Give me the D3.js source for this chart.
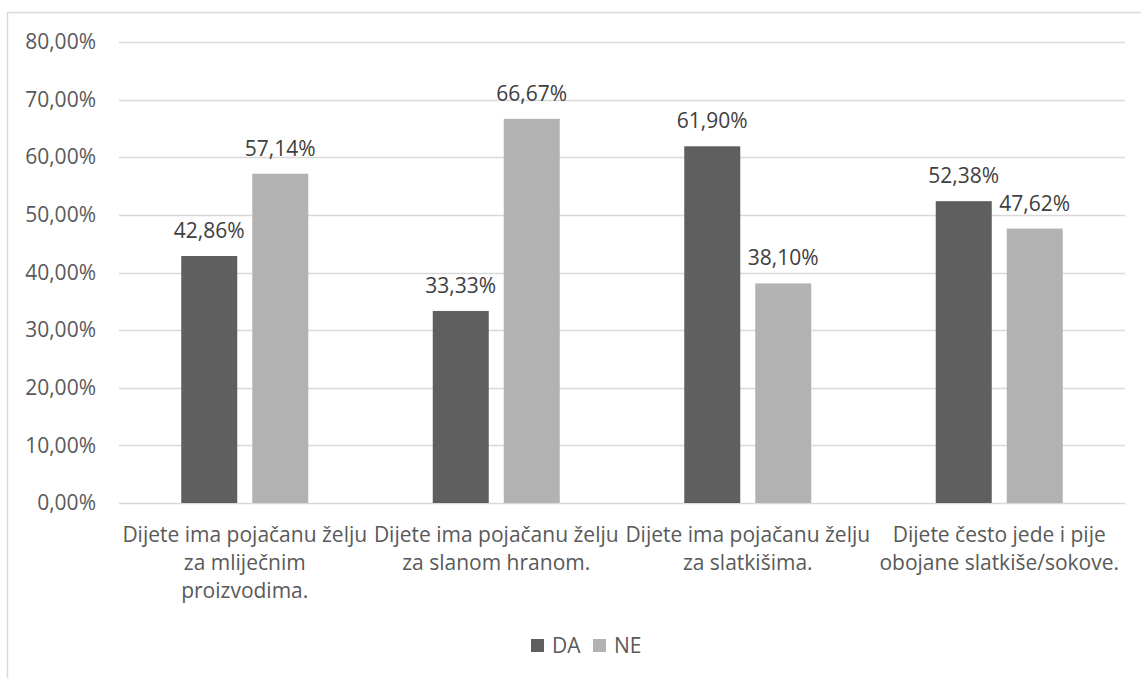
<!DOCTYPE html>
<html>
<head>
<meta charset="utf-8">
<script src="https://cdn.jsdelivr.net/npm/d3@7"></script>
<style>
html,body{margin:0;padding:0;background:#fff;}
svg{display:block;}
text{font-family:"Open Sans",sans-serif;}
</style>
</head>
<body>
<svg id="chart" width="1141" height="678"></svg>
<script>
const categories = [
  "Dijete ima pojačanu želju\nza mliječnim\nproizvodima.",
  "Dijete ima pojačanu želju\nza slanom hranom.",
  "Dijete ima pojačanu želju\nza slatkišima.",
  "Dijete često jede i pije\nobojane slatkiše/sokove."
];
const seriesNames = ["DA", "NE"];
const daValues = [42.86, 33.33, 61.90, 52.38];
const neValues = [57.14, 66.67, 38.10, 47.62];
const yTicks = [0, 10, 20, 30, 40, 50, 60, 70, 80];
const colors = ["#5f5f5f", "#b2b2b2"];

const series = [daValues, neValues];
const fmt = v => v.toFixed(2).replace(".", ",") + "%";
const FS = 21;

const svg = d3.select("#chart");
const margin = {left:119, right:16, top:42, bottom:175};
const W = 1141, H = 678;
const x0 = margin.left, x1 = W - margin.right;
const yBase = H - margin.bottom;

// chart border
svg.append("rect").attr("x", 7.5).attr("y", 12.5).attr("width", 1160).attr("height", 700)
  .attr("fill", "none").attr("stroke", "#d9d9d9").attr("stroke-width", 1.5);

const x = d3.scaleBand().domain(d3.range(categories.length)).range([x0, x1]).padding(0);
const y = d3.scaleLinear().domain([0, 80]).range([yBase, margin.top]);

// gridlines
svg.append("g").selectAll("line").data(yTicks).join("line")
  .attr("x1", x0).attr("x2", x1)
  .attr("y1", d => Math.round(y(d)) + 0.5).attr("y2", d => Math.round(y(d)) + 0.5)
  .attr("stroke", "#d9d9d9").attr("stroke-width", 1.5);

// y axis labels
const yAxis = d3.axisLeft(y).tickValues(yTicks).tickFormat(fmt).tickSize(0).tickPadding(0);
const gy = svg.append("g").attr("transform", `translate(96,0)`).call(yAxis);
gy.select(".domain").remove();
gy.selectAll("text").attr("font-family", "Open Sans").attr("font-size", FS).attr("fill", "#595959");

// bars
const barW = 56, off = 35.5;
series.forEach((vals, si) => {
  const g = svg.append("g");
  g.selectAll("rect").data(vals).join("rect")
    .attr("x", (d, i) => x(i) + x.bandwidth()/2 + (si === 0 ? -off : off) - barW/2)
    .attr("y", d => y(d))
    .attr("width", barW)
    .attr("height", d => yBase - y(d))
    .attr("fill", colors[si]);
  g.selectAll("text").data(vals).join("text")
    .attr("x", (d, i) => x(i) + x.bandwidth()/2 + (si === 0 ? -off : off))
    .attr("y", d => y(d) - 18)
    .attr("text-anchor", "middle")
    .attr("font-size", FS)
    .attr("fill", "#404040")
    .text(d => fmt(d));
});

// category labels
const gx = svg.append("g");
categories.forEach((c, i) => {
  const t = gx.append("text")
    .attr("text-anchor", "middle")
    .attr("font-size", FS)
    .attr("fill", "#595959");
  c.split("\n").forEach((line, li) => {
    t.append("tspan").attr("x", x(i) + x.bandwidth()/2).attr("y", 542 + li * 28).text(line);
  });
});

// legend
const legend = svg.append("g");
const lx = [531, 593];
seriesNames.forEach((n, i) => {
  legend.append("rect").attr("x", lx[i]).attr("y", 639).attr("width", 13).attr("height", 13).attr("fill", colors[i]);
  legend.append("text").attr("x", lx[i] + 21).attr("y", 653).attr("font-size", FS).attr("fill", "#595959").text(n);
});
</script>
</body>
</html>
